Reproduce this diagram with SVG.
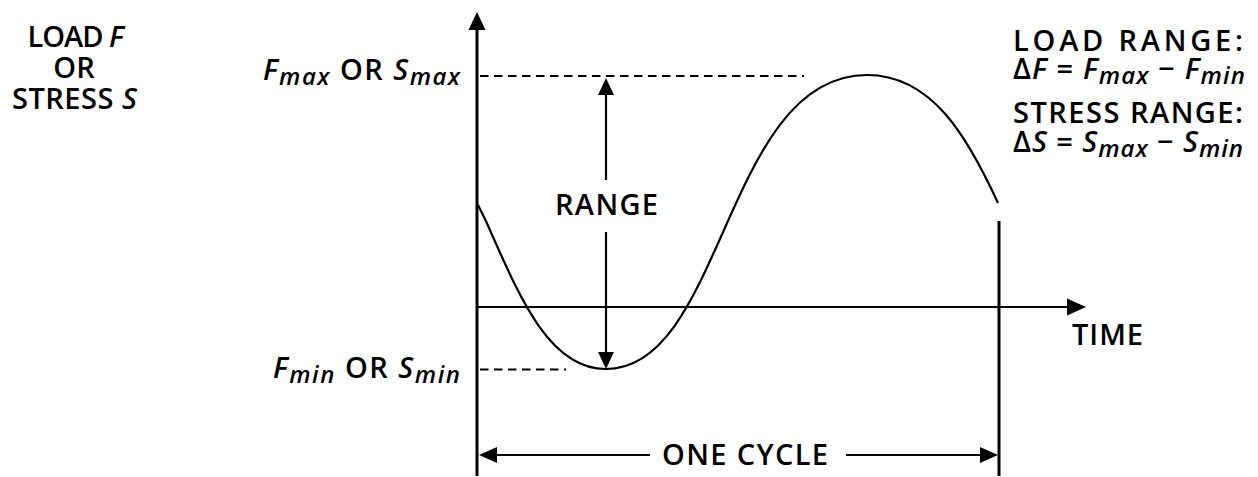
<svg xmlns="http://www.w3.org/2000/svg" width="1258" height="477" viewBox="0 0 1258 477">
<style>
text{font-family:"Open Sans","Liberation Sans",sans-serif;font-size:29px;fill:#000;font-weight:600}
.i{font-style:italic}
.sub{font-style:italic;font-size:24px}
.ax{stroke:#000;stroke-width:3;fill:none}
.ln{stroke:#000;stroke-width:2.2;fill:none}
.dash{stroke:#000;stroke-width:2;stroke-dasharray:8.5 5.5;fill:none}
.ah{fill:#000;stroke:none}
</style>
<rect width="1258" height="477" fill="#fff"/>
<g id="axes">
<line class="ax" x1="477" y1="26" x2="477" y2="476"/>
<polygon class="ah" points="477,12 468.5,30 485.5,30"/>
<line class="ln" x1="477" y1="307" x2="1070" y2="307"/>
<polygon class="ah" points="1086,307 1067,298.5 1067,315.5"/>
<line class="ax" x1="999" y1="221" x2="999" y2="476"/>
</g>
<g id="curve">
<path class="ln" stroke-width="2.6" d="M478,205 L486.4,222 C519,295.5 548.5,369 606,369 C724,369 725,75 867,75 C931.8,75 967.3,136.3 998,203"/>
</g>
<g id="connectors">
<line class="dash" x1="480" y1="76" x2="804" y2="76"/>
<line class="dash" x1="480" y1="369.5" x2="566" y2="369.5"/>
<line class="ln" x1="606" y1="92" x2="606" y2="180"/>
<line class="ln" x1="606" y1="232" x2="606" y2="354"/>
<polygon class="ah" points="606,78 598,95 614,95"/>
<polygon class="ah" points="606,369 598,352 614,352"/>
<line class="ln" x1="494" y1="455" x2="650" y2="455"/>
<polygon class="ah" points="479,455 497,447 497,463"/>
<line class="ln" x1="846" y1="455" x2="982" y2="455"/>
<polygon class="ah" points="998,455 980,447 980,463"/>
</g>
<g id="ylabel">
<text x="75" y="47" text-anchor="middle" letter-spacing="-1">LOAD <tspan class="i">F</tspan></text>
<text x="74" y="78" text-anchor="middle">OR</text>
<text x="12" y="109" textLength="125" lengthAdjust="spacing">STRESS <tspan class="i">S</tspan></text>
</g>
<g id="fmax">
<text x="263" y="80" textLength="197" lengthAdjust="spacing"><tspan class="i">F</tspan><tspan class="sub" dy="5">max</tspan><tspan dy="-5"> OR </tspan><tspan class="i">S</tspan><tspan class="sub" dy="5">max</tspan></text>
</g>
<g id="fmin">
<text x="273" y="378" textLength="187" lengthAdjust="spacing"><tspan class="i">F</tspan><tspan class="sub" dy="5">min</tspan><tspan dy="-5"> OR </tspan><tspan class="i">S</tspan><tspan class="sub" dy="5">min</tspan></text>
</g>
<g id="range">
<text x="555" y="215" textLength="103" lengthAdjust="spacing">RANGE</text>
</g>
<g id="time">
<text x="1072" y="345" textLength="71" lengthAdjust="spacing">TIME</text>
</g>
<g id="cycle">
<text x="662" y="465" textLength="166" lengthAdjust="spacing">ONE CYCLE</text>
</g>
<g id="legend">
<text x="1013" y="51" textLength="230" lengthAdjust="spacing">LOAD RANGE:</text>
<text x="1013" y="79" textLength="232" lengthAdjust="spacing">Δ<tspan class="i">F</tspan> = <tspan class="i">F</tspan><tspan class="sub" dy="5">max</tspan><tspan dy="-5"> − </tspan><tspan class="i">F</tspan><tspan class="sub" dy="5">min</tspan></text>
<text x="1013" y="123" textLength="230" lengthAdjust="spacing">STRESS RANGE:</text>
<text x="1013" y="152" textLength="230" lengthAdjust="spacing">Δ<tspan class="i">S</tspan> = <tspan class="i">S</tspan><tspan class="sub" dy="5">max</tspan><tspan dy="-5"> − </tspan><tspan class="i">S</tspan><tspan class="sub" dy="5">min</tspan></text>
</g>
</svg>
